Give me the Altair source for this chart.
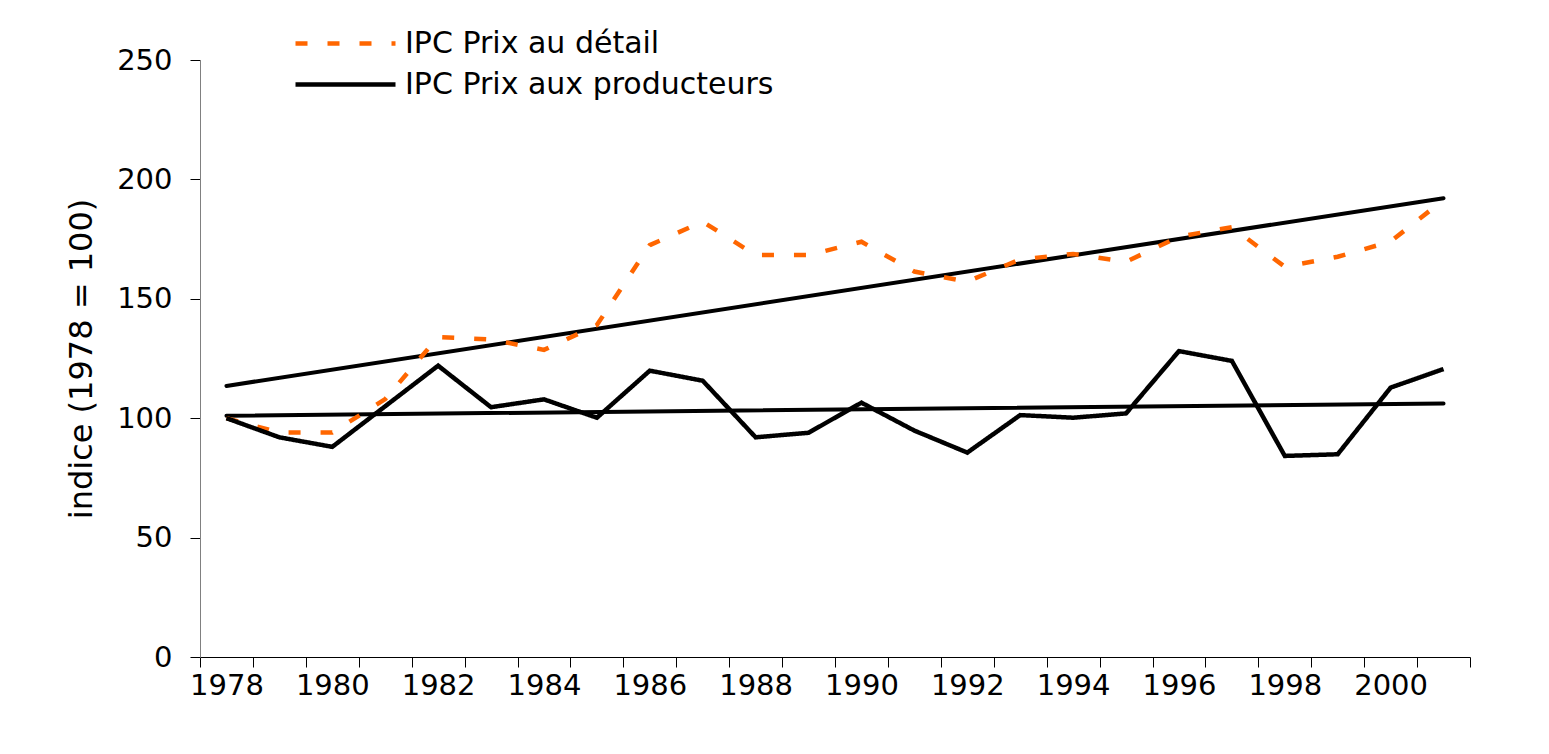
import altair as alt
import pandas as pd

years = list(range(1978, 2002))
retail = [100, 94, 94, 108, 134, 133, 128.6, 139, 172.5, 182.3, 168.3, 168.3,
          173.9, 161.4, 157.2, 166.5, 168.8, 165.5, 176, 180, 163.4, 167.6, 174, 191.4]
producers = [100, 92, 88, 105, 122, 104.6, 107.9, 100.2, 119.9, 115.7, 92, 93.9,
             106.5, 94.8, 85.6, 101.3, 100.2, 102, 128.1, 124, 84.2, 84.9, 112.8, 120.6]
series_names = ["IPC Prix au détail", "IPC Prix aux producteurs"]
series_colors = ["#FF6600", "#000000"]
series_dashes = [[12, 20], [1, 0]]
y_ticks = [0, 50, 100, 150, 200, 250]
x_label_years = list(range(1978, 2002, 2))
x_tick_edges = [y - 0.5 for y in years] + [years[-1] + 0.5]

rows = []
for y, r, p in zip(years, retail, producers):
    rows.append({"year": y, "value": r, "series": series_names[0]})
    rows.append({"year": y, "value": p, "series": series_names[1]})
df = pd.DataFrame(rows)

FONT = "DejaVu Sans"
x_scale = alt.Scale(domain=[years[0] - 0.5, years[-1] + 0.5], nice=False, zero=False)
y_scale = alt.Scale(domain=[0, 250], nice=False)

axis_ticks = alt.Axis(
    title=None,
    orient="bottom",
    values=x_tick_edges,
    labels=False,
    tickSize=10,
    tickColor="#000000",
    domainColor="#000000",
    grid=False,
)
axis_labels = alt.Axis(
    title=None,
    orient="bottom",
    values=x_label_years,
    ticks=False,
    domain=False,
    format="d",
    labelOverlap=False,
    labelAngle=0,
    labelPadding=14,
    labelFontSize=29,
    labelFont=FONT,
    labelColor="#000000",
    grid=False,
)
y_axis = alt.Axis(
    title="indice (1978 = 100)",
    values=y_ticks,
    tickSize=10,
    tickColor="#000000",
    domainColor="#808080",
    labelPadding=18,
    labelFontSize=29,
    labelFont=FONT,
    labelColor="#000000",
    titleFontSize=32,
    titleFont=FONT,
    titleFontWeight="normal",
    titleColor="#000000",
    titlePadding=18,
    grid=False,
)

legend = alt.Legend(
    title=None,
    orient="none",
    legendX=123,
    legendY=-39,
    symbolType="M-2.5,0H2.5",
    symbolSize=1600,
    symbolStrokeWidth=4.5,
    labelFontSize=30,
    labelFont=FONT,
    labelColor="#000000",
    labelOffset=37,
    labelLimit=0,
    rowPadding=3,
)

base = alt.Chart(df)

lines = base.mark_line(strokeWidth=4.5).encode(
    x=alt.X("year:Q", scale=x_scale, axis=axis_labels),
    y=alt.Y("value:Q", scale=y_scale, axis=y_axis),
    color=alt.Color(
        "series:N",
        scale=alt.Scale(domain=series_names, range=series_colors),
        legend=legend,
    ),
    strokeDash=alt.StrokeDash(
        "series:N",
        scale=alt.Scale(domain=series_names, range=series_dashes),
        legend=legend,
    ),
    order=alt.Order("year:Q"),
)

trend = base.transform_regression(
    "year", "value", groupby=["series"]
).mark_line(strokeWidth=4, color="#000000", strokeCap="round").encode(
    x=alt.X("year:Q", scale=x_scale, axis=axis_ticks),
    y=alt.Y("value:Q", scale=y_scale, axis=y_axis),
    detail="series:N",
)

chart = alt.layer(trend, lines).resolve_axis(x="independent").properties(
    width=1270,
    height=597,
    padding={"left": 192, "top": 52, "right": 71, "bottom": 89},
    autosize="none",
    background="#FFFFFF",
).configure_view(stroke=None)

chart.save("out.html", embed_options={"renderer": "svg", "actions": False})
